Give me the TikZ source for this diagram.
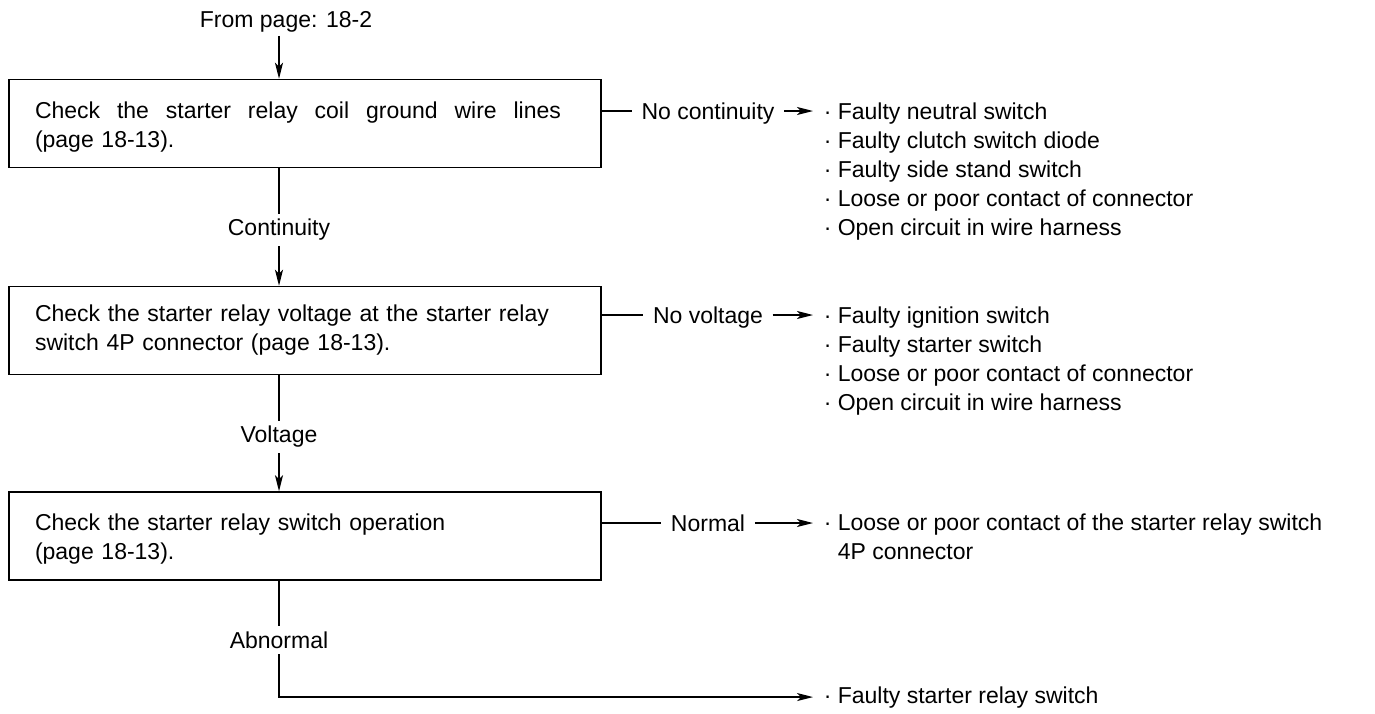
\documentclass[tikz,border=0pt]{standalone}
\usepackage{fontspec}
\setmainfont{Liberation Sans}
\usetikzlibrary{arrows.meta}

\begin{document}
\begin{tikzpicture}[x=1pt, y=-1pt, line width=1.5pt,
  every node/.style={font=\fontsize{23}{29}\selectfont},
  >={Stealth[length=16pt,width=8pt,inset=4pt]},
  checkbox/.style={draw, minimum width=592pt, minimum height=88pt, text width=540pt, align=left, inner sep=0pt},
  answer/.style={inner xsep=9pt, inner ysep=5pt},
  sideanswer/.style={answer, text height=16pt, text depth=0pt},
  faults/.style={anchor=base west, inner xsep=10pt, inner ysep=0pt}]

\useasboundingbox (0,0) rectangle (1375,713);
\coordinate (spine) at (279,0);

% Check boxes
\node[checkbox] (chk1) at (305,123.5) {\rule{0pt}{23pt}\hbox to 526pt{Check\hfill the\hfill starter\hfill relay\hfill coil\hfill ground\hfill wire\hfill lines}\\(page 18-13).};
\node[checkbox] (chk2) at (305,330.5) {Check the starter relay voltage at the starter relay\\switch 4P connector (page 18-13).};
\node[checkbox] (chk3) at (305,536) {\rule{0pt}{23pt}Check the starter relay switch operation\\(page 18-13).};

% Entry
\node[anchor=base] (from) at (286,27) {From page: 18-2};
\draw[->] (from.south -| spine) -- (chk1.north -| spine);

% Down the left
\node[answer] (cont) at (279,230) {Continuity};
\node[answer] (volt) at (279,437) {Voltage};
\node[answer] (abn) at (279,640) {Abnormal};

\draw (chk1.south -| spine) -- (cont.north);
\draw[->] (cont.south) -- (chk2.north -| spine);
\draw (chk2.south -| spine) -- (volt.north);
\draw[->] (volt.south) -- (chk3.north -| spine);
\draw (chk3.south -| spine) -- (abn.north);

% Out to the right
\node[sideanswer] (nocont) at (708,111) {No continuity};
\node[sideanswer] (novolt) at (708,315) {No voltage};
\node[sideanswer] (norm) at (708,523) {Normal};

% Possible causes
\node[faults] (res1) at (813,119) {\begin{tabular}[t]{@{}l@{}}· Faulty neutral switch\\· Faulty clutch switch diode\\· Faulty side stand switch\\· Loose or poor contact of connector\\· Open circuit in wire harness\end{tabular}};
\node[faults] (res2) at (813,323) {\begin{tabular}[t]{@{}l@{}}· Faulty ignition switch\\· Faulty starter switch\\· Loose or poor contact of connector\\· Open circuit in wire harness\end{tabular}};
\node[faults] (res3) at (813,530) {\begin{tabular}[t]{@{}l@{}}· Loose or poor contact of the starter relay switch\\\phantom{· }4P connector\end{tabular}};
\node[faults] (res4) at (813,703) {· Faulty starter relay switch};

\draw (chk1.east |- nocont.west) -- (nocont.west);
\draw[->] (nocont.east) -- (nocont.east -| res1.west);
\draw (chk2.east |- novolt.west) -- (novolt.west);
\draw[->] (novolt.east) -- (novolt.east -| res2.west);
\draw (chk3.east |- norm.west) -- (norm.west);
\draw[->] (norm.east) -- (norm.east -| res3.west);
\draw[->] (abn.south) |- (res4.west);

\end{tikzpicture}
\end{document}
